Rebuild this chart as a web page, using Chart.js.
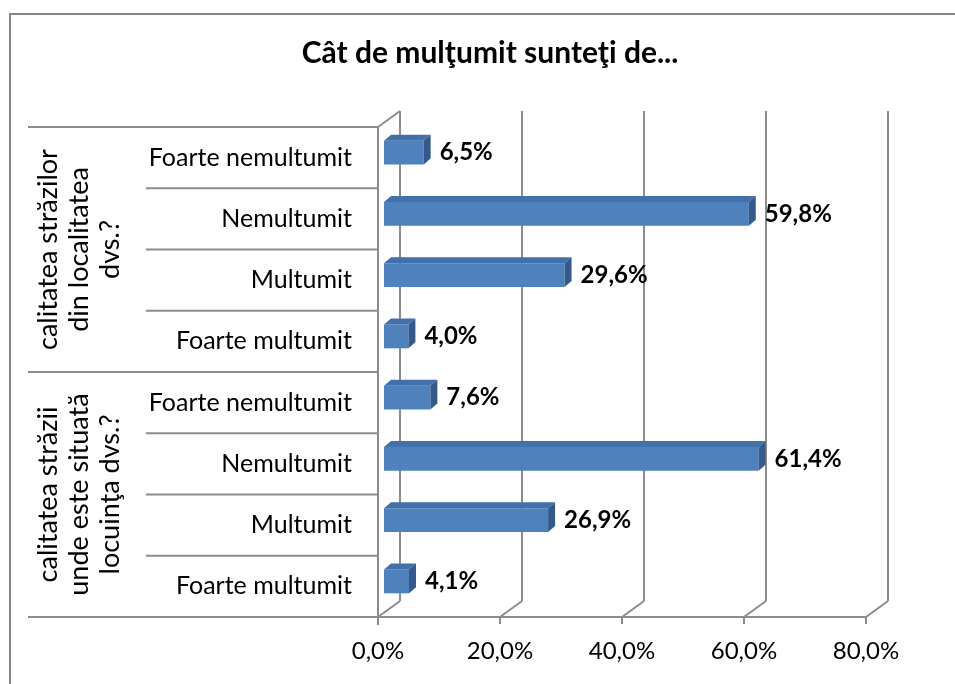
<!DOCTYPE html>
<html><head><meta charset="utf-8">
<script src="https://cdn.jsdelivr.net/npm/chart.js@4"></script>
<style>html,body{margin:0;padding:0;background:#fff}canvas{display:block}</style>
</head><body>
<canvas id="c" width="955" height="684"></canvas>
<script>
const chartTitle = 'Cât de mulţumit sunteţi de...';
const groupLabels = [
  ['calitatea străzilor', 'din localitatea', 'dvs.?'],
  ['calitatea străzii', 'unde este situată', 'locuinţa dvs.?']
];
const groupSizes = [4, 4];
const categories = ['Foarte nemultumit', 'Nemultumit', 'Multumit', 'Foarte multumit',
                    'Foarte nemultumit', 'Nemultumit', 'Multumit', 'Foarte multumit'];
const values = [6.5, 59.8, 29.6, 4.0, 7.6, 61.4, 26.9, 4.1];
const valueLabels = ['6,5%', '59,8%', '29,6%', '4,0%', '7,6%', '61,4%', '26,9%', '4,1%'];
const xTickValues = [0, 20, 40, 60, 80];
const xTickLabels = ['0,0%', '20,0%', '40,0%', '60,0%', '80,0%'];

const FONT = 'Lato, "Open Sans", sans-serif';
const GRID = '#8c8c8c';
const DX = 22, DY = -16;      // wall depth
const BX = 7, BY = -6;        // bar depth
const SHIFT_X = 6, SHIFT_Y = -5;

function line(ctx, x0, y0, x1, y1) {
  ctx.beginPath(); ctx.moveTo(x0, y0); ctx.lineTo(x1, y1); ctx.stroke();
}

const frame = {
  id: 'frame',
  beforeDraw(chart) {
    const ctx = chart.ctx;
    const { left, right, top, bottom } = chart.chartArea;
    ctx.save();
    ctx.fillStyle = '#fff';
    ctx.fillRect(0, 0, chart.width, chart.height);
    ctx.strokeStyle = '#868686'; ctx.lineWidth = 2;
    ctx.strokeRect(10, 14, chart.width + 20, chart.height + 20);
    // title
    ctx.fillStyle = '#000';
    ctx.font = 'bold 30px ' + FONT;
    ctx.textAlign = 'center'; ctx.textBaseline = 'alphabetic';
    ctx.fillText(chartTitle, 490, 63);
    // category separators
    const n = categories.length;
    const rowH = (bottom - top) / n;
    ctx.strokeStyle = GRID; ctx.lineWidth = 2;
    const groupEdges = [0];
    groupSizes.forEach(s => groupEdges.push(groupEdges[groupEdges.length - 1] + s));
    for (let k = 0; k <= n; k++) {
      const y = top + rowH * k;
      const x0 = groupEdges.includes(k) ? 28 : 146;
      line(ctx, x0, y, left, y);
    }
    // group labels (rotated)
    ctx.fillStyle = '#000';
    ctx.font = '27px ' + FONT;
    ctx.textAlign = 'center'; ctx.textBaseline = 'middle';
    groupLabels.forEach((lines, g) => {
      const cy = top + rowH * (groupEdges[g] + groupEdges[g + 1]) / 2;
      lines.forEach((txt, i) => {
        const cx = 48 + i * 31;
        ctx.save();
        ctx.translate(cx, cy);
        ctx.rotate(-Math.PI / 2);
        ctx.fillText(txt, 0, 0);
        ctx.restore();
      });
    });
    // 3D walls / grid
    const xs = chart.scales.x;
    ctx.strokeStyle = GRID; ctx.lineWidth = 2;
    line(ctx, left, top, left, bottom + 8);
    line(ctx, left, top, left + DX, top + DY);
    line(ctx, left, bottom, right, bottom);
    xTickValues.forEach(v => {
      const x = xs.getPixelForValue(v);
      line(ctx, x, bottom, x, bottom + 7);
      line(ctx, x, bottom, x + DX, bottom + DY);
      line(ctx, x + DX, bottom + DY, x + DX, top + DY);
    });
    ctx.restore();
  },
  beforeDatasetsDraw(chart) {
    chart.ctx.save();
    chart.ctx.translate(SHIFT_X, SHIFT_Y);
  },
  afterDatasetsDraw(chart) {
    const ctx = chart.ctx;
    const meta = chart.getDatasetMeta(0);
    meta.data.forEach((bar, i) => {
      const p = bar.getProps(['x', 'y', 'base', 'height'], true);
      const t = p.y - p.height / 2, b = p.y + p.height / 2;
      // top face
      ctx.fillStyle = '#4170aa';
      ctx.beginPath();
      ctx.moveTo(p.base, t); ctx.lineTo(p.base + BX, t + BY);
      ctx.lineTo(p.x + BX, t + BY); ctx.lineTo(p.x, t); ctx.closePath(); ctx.fill();
      // side face
      ctx.fillStyle = '#34598a';
      ctx.beginPath();
      ctx.moveTo(p.x, t); ctx.lineTo(p.x + BX, t + BY);
      ctx.lineTo(p.x + BX, b + BY); ctx.lineTo(p.x, b); ctx.closePath(); ctx.fill();
      // value label
      ctx.fillStyle = '#000';
      ctx.font = 'bold 24px ' + FONT;
      ctx.textAlign = 'left'; ctx.textBaseline = 'middle';
      ctx.fillText(valueLabels[i], p.x + BX + 9, p.y);
    });
    ctx.restore();
  }
};

new Chart(document.getElementById('c').getContext('2d'), {
  type: 'bar',
  data: {
    labels: categories,
    datasets: [{
      data: values,
      backgroundColor: '#4f81bd',
      borderWidth: 0,
      barPercentage: 0.39,
      categoryPercentage: 1
    }]
  },
  options: {
    indexAxis: 'y',
    responsive: false,
    animation: false,
    devicePixelRatio: 1,
    layout: { padding: { left: 0, top: 127, right: 89, bottom: 0 } },
    plugins: { legend: { display: false }, title: { display: false }, tooltip: { enabled: false } },
    scales: {
      x: {
        min: 0, max: 80,
        grid: { display: false, drawTicks: false },
        border: { display: false },
        afterFit(s) { s.height = 67; },
        afterBuildTicks(s) { s.ticks = xTickValues.map(v => ({ value: v })); },
        ticks: {
          callback: (v, i) => xTickLabels[i],
          padding: 20, color: '#000', maxRotation: 0, autoSkip: false,
          font: { family: FONT, size: 24 }
        }
      },
      y: {
        grid: { display: false, drawTicks: false },
        border: { display: false },
        afterFit(s) { s.width = 378; },
        ticks: { padding: 26, color: '#000', autoSkip: false, font: { family: FONT, size: 25 } }
      }
    }
  },
  plugins: [frame]
});
</script>
</body></html>
